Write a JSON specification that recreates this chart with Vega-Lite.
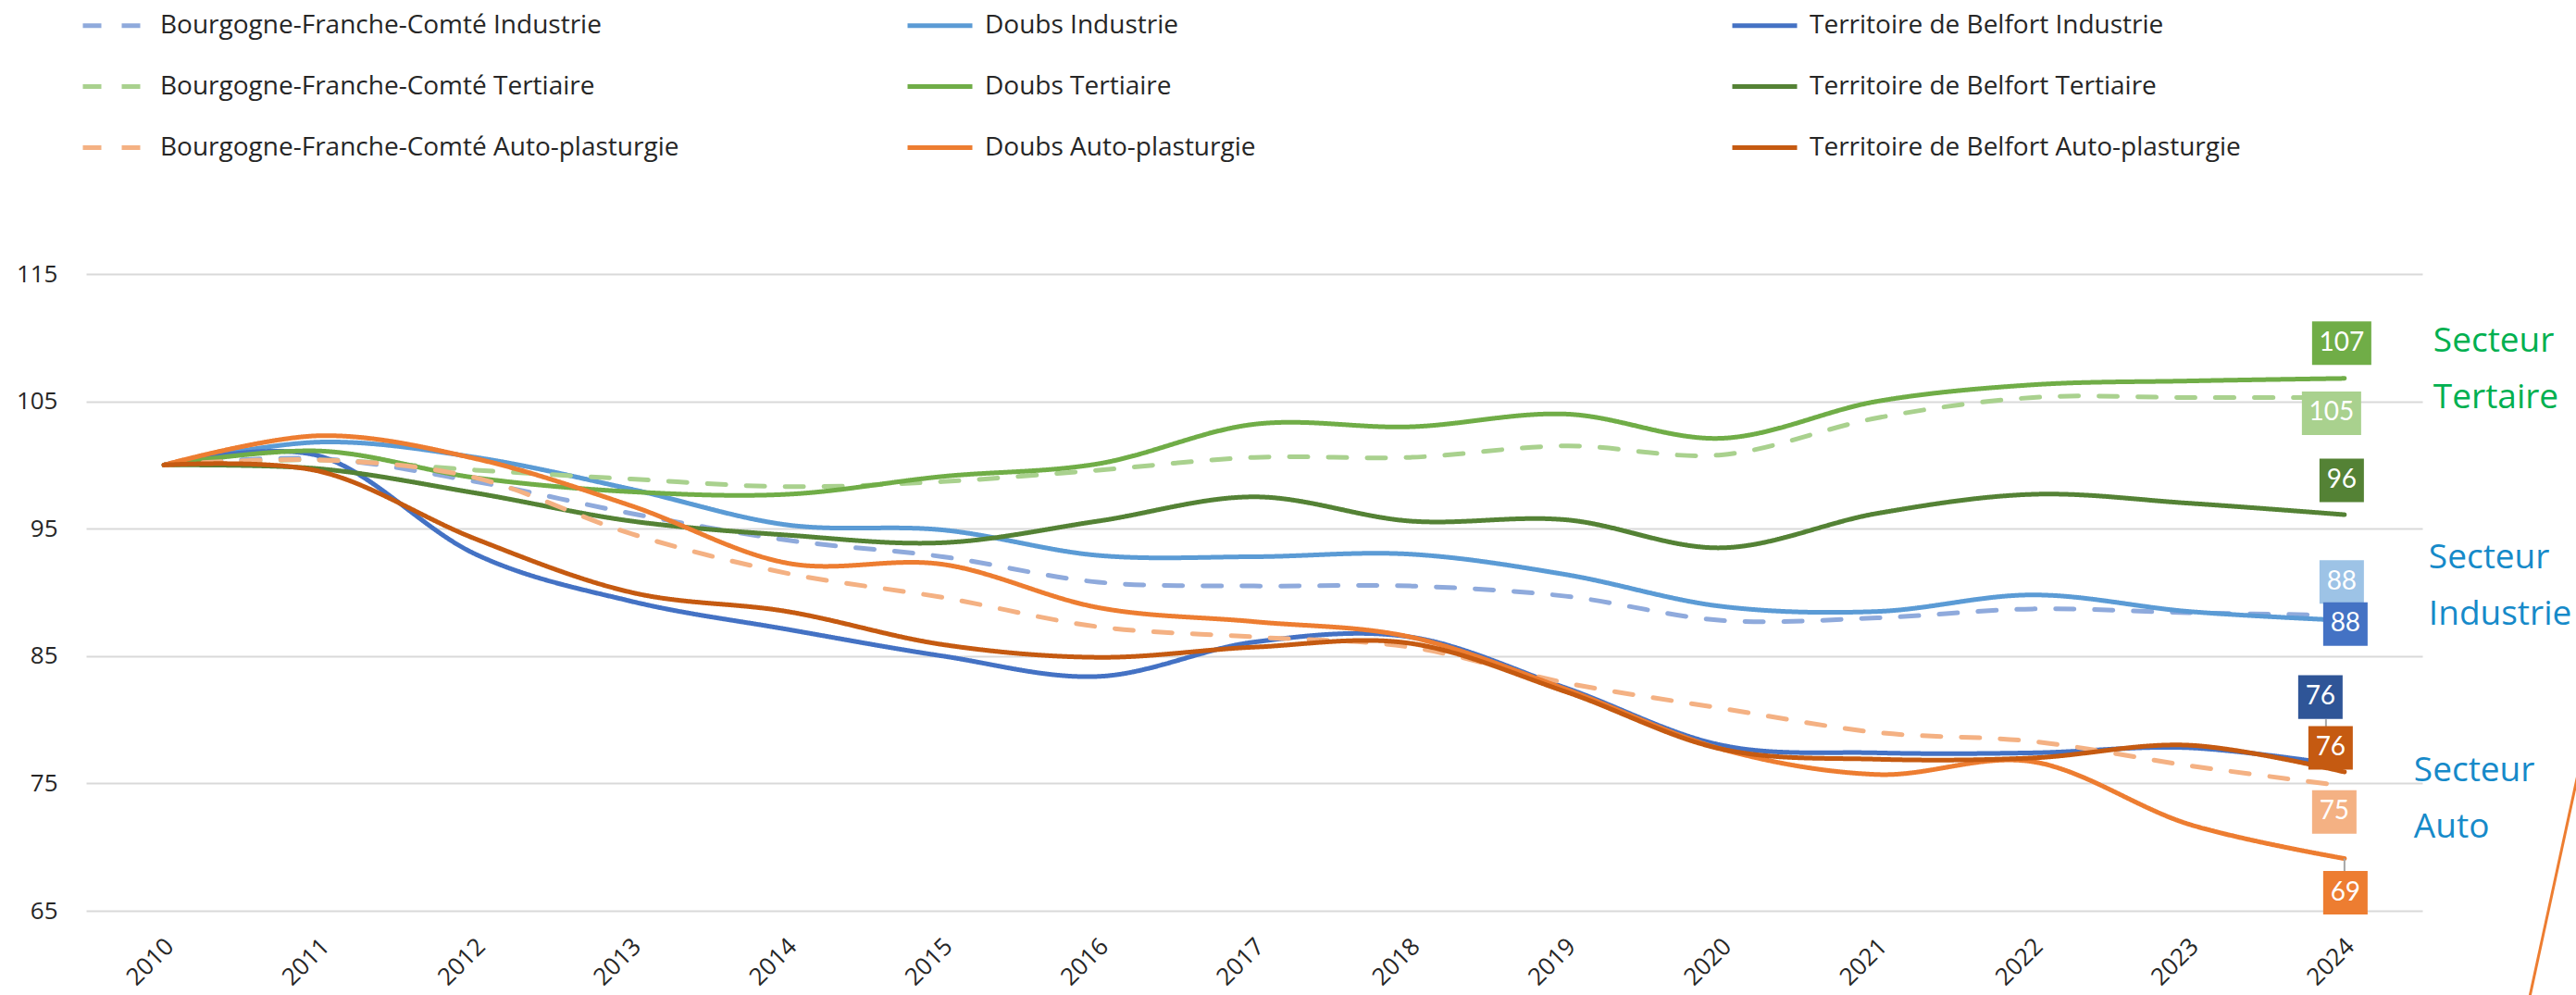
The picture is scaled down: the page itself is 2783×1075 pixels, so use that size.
{
  "$schema": "https://vega.github.io/schema/vega-lite/v6.json",
  "width": 2524,
  "height": 688,
  "autosize": {"type": "none"},
  "padding": {"left": 93, "top": 296, "right": 166, "bottom": 91},
  "background": "white",
  "config": {"view": {"stroke": null}, "font": "Open Sans"},
  "datasets": {
    "idx": [
      {"year": 2010, "Bourgogne-Franche-Comté Industrie": 100, "Doubs Industrie": 100, "Territoire de Belfort Industrie": 100, "Bourgogne-Franche-Comté Tertiaire": 100, "Doubs Tertiaire": 100, "Territoire de Belfort Tertiaire": 100, "Bourgogne-Franche-Comté Auto-plasturgie": 100, "Doubs Auto-plasturgie": 100, "Territoire de Belfort Auto-plasturgie": 100},
      {"year": 2011, "Bourgogne-Franche-Comté Industrie": 100.5, "Doubs Industrie": 101.8, "Territoire de Belfort Industrie": 100.7, "Bourgogne-Franche-Comté Tertiaire": 100.4, "Doubs Tertiaire": 101.1, "Territoire de Belfort Tertiaire": 99.7, "Bourgogne-Franche-Comté Auto-plasturgie": 100.4, "Doubs Auto-plasturgie": 102.3, "Territoire de Belfort Auto-plasturgie": 99.5},
      {"year": 2012, "Bourgogne-Franche-Comté Industrie": 98.7, "Doubs Industrie": 100.6, "Territoire de Belfort Industrie": 93.0, "Bourgogne-Franche-Comté Tertiaire": 99.6, "Doubs Tertiaire": 99.0, "Territoire de Belfort Tertiaire": 97.8, "Bourgogne-Franche-Comté Auto-plasturgie": 99.0, "Doubs Auto-plasturgie": 100.5, "Territoire de Belfort Auto-plasturgie": 94.2},
      {"year": 2013, "Bourgogne-Franche-Comté Industrie": 96.2, "Doubs Industrie": 98.1, "Territoire de Belfort Industrie": 89.3, "Bourgogne-Franche-Comté Tertiaire": 98.9, "Doubs Tertiaire": 97.9, "Territoire de Belfort Tertiaire": 95.6, "Bourgogne-Franche-Comté Auto-plasturgie": 94.6, "Doubs Auto-plasturgie": 96.8, "Territoire de Belfort Auto-plasturgie": 90.0},
      {"year": 2014, "Bourgogne-Franche-Comté Industrie": 94.1, "Doubs Industrie": 95.3, "Territoire de Belfort Industrie": 87.1, "Bourgogne-Franche-Comté Tertiaire": 98.3, "Doubs Tertiaire": 97.7, "Territoire de Belfort Tertiaire": 94.5, "Bourgogne-Franche-Comté Auto-plasturgie": 91.5, "Doubs Auto-plasturgie": 92.3, "Territoire de Belfort Auto-plasturgie": 88.5},
      {"year": 2015, "Bourgogne-Franche-Comté Industrie": 92.8, "Doubs Industrie": 94.9, "Territoire de Belfort Industrie": 85.0, "Bourgogne-Franche-Comté Tertiaire": 98.7, "Doubs Tertiaire": 99.1, "Territoire de Belfort Tertiaire": 93.9, "Bourgogne-Franche-Comté Auto-plasturgie": 89.6, "Doubs Auto-plasturgie": 92.2, "Territoire de Belfort Auto-plasturgie": 85.9},
      {"year": 2016, "Bourgogne-Franche-Comté Industrie": 90.8, "Doubs Industrie": 92.9, "Territoire de Belfort Industrie": 83.4, "Bourgogne-Franche-Comté Tertiaire": 99.6, "Doubs Tertiaire": 100.1, "Territoire de Belfort Tertiaire": 95.6, "Bourgogne-Franche-Comté Auto-plasturgie": 87.3, "Doubs Auto-plasturgie": 88.8, "Territoire de Belfort Auto-plasturgie": 84.9},
      {"year": 2017, "Bourgogne-Franche-Comté Industrie": 90.5, "Doubs Industrie": 92.8, "Territoire de Belfort Industrie": 86.1, "Bourgogne-Franche-Comté Tertiaire": 100.6, "Doubs Tertiaire": 103.2, "Territoire de Belfort Tertiaire": 97.5, "Bourgogne-Franche-Comté Auto-plasturgie": 86.5, "Doubs Auto-plasturgie": 87.7, "Territoire de Belfort Auto-plasturgie": 85.7},
      {"year": 2018, "Bourgogne-Franche-Comté Industrie": 90.5, "Doubs Industrie": 93.0, "Territoire de Belfort Industrie": 86.5, "Bourgogne-Franche-Comté Tertiaire": 100.6, "Doubs Tertiaire": 103.0, "Territoire de Belfort Tertiaire": 95.6, "Bourgogne-Franche-Comté Auto-plasturgie": 85.7, "Doubs Auto-plasturgie": 86.5, "Territoire de Belfort Auto-plasturgie": 86.0},
      {"year": 2019, "Bourgogne-Franche-Comté Industrie": 89.7, "Doubs Industrie": 91.4, "Territoire de Belfort Industrie": 82.5, "Bourgogne-Franche-Comté Tertiaire": 101.5, "Doubs Tertiaire": 104.0, "Territoire de Belfort Tertiaire": 95.7, "Bourgogne-Franche-Comté Auto-plasturgie": 82.9, "Doubs Auto-plasturgie": 82.4, "Territoire de Belfort Auto-plasturgie": 82.2},
      {"year": 2020, "Bourgogne-Franche-Comté Industrie": 87.8, "Doubs Industrie": 88.9, "Territoire de Belfort Industrie": 78.0, "Bourgogne-Franche-Comté Tertiaire": 100.8, "Doubs Tertiaire": 102.1, "Territoire de Belfort Tertiaire": 93.5, "Bourgogne-Franche-Comté Auto-plasturgie": 80.9, "Doubs Auto-plasturgie": 77.7, "Territoire de Belfort Auto-plasturgie": 77.7},
      {"year": 2021, "Bourgogne-Franche-Comté Industrie": 88.0, "Doubs Industrie": 88.5, "Territoire de Belfort Industrie": 77.4, "Bourgogne-Franche-Comté Tertiaire": 103.7, "Doubs Tertiaire": 105.0, "Territoire de Belfort Tertiaire": 96.2, "Bourgogne-Franche-Comté Auto-plasturgie": 79.0, "Doubs Auto-plasturgie": 75.7, "Territoire de Belfort Auto-plasturgie": 76.9},
      {"year": 2022, "Bourgogne-Franche-Comté Industrie": 88.7, "Doubs Industrie": 89.8, "Territoire de Belfort Industrie": 77.4, "Bourgogne-Franche-Comté Tertiaire": 105.3, "Doubs Tertiaire": 106.3, "Territoire de Belfort Tertiaire": 97.7, "Bourgogne-Franche-Comté Auto-plasturgie": 78.3, "Doubs Auto-plasturgie": 76.7, "Territoire de Belfort Auto-plasturgie": 77.0},
      {"year": 2023, "Bourgogne-Franche-Comté Industrie": 88.4, "Doubs Industrie": 88.5, "Territoire de Belfort Industrie": 77.8, "Bourgogne-Franche-Comté Tertiaire": 105.3, "Doubs Tertiaire": 106.6, "Territoire de Belfort Tertiaire": 97.0, "Bourgogne-Franche-Comté Auto-plasturgie": 76.4, "Doubs Auto-plasturgie": 71.8, "Territoire de Belfort Auto-plasturgie": 78.0},
      {"year": 2024, "Bourgogne-Franche-Comté Industrie": 88.2, "Doubs Industrie": 87.8, "Territoire de Belfort Industrie": 76.4, "Bourgogne-Franche-Comté Tertiaire": 105.3, "Doubs Tertiaire": 106.8, "Territoire de Belfort Tertiaire": 96.1, "Bourgogne-Franche-Comté Auto-plasturgie": 74.8, "Doubs Auto-plasturgie": 69.1, "Territoire de Belfort Auto-plasturgie": 75.9}
    ]
  },
  "data": {"name": "idx"},
  "transform": [
    {"fold": ["Bourgogne-Franche-Comté Industrie", "Doubs Industrie", "Territoire de Belfort Industrie", "Bourgogne-Franche-Comté Tertiaire", "Doubs Tertiaire", "Territoire de Belfort Tertiaire", "Bourgogne-Franche-Comté Auto-plasturgie", "Doubs Auto-plasturgie", "Territoire de Belfort Auto-plasturgie"], "as": ["series", "value"]}
  ],
  "layer": [
    {
      "mark": {"type": "line", "interpolate": "cardinal", "strokeWidth": 5, "strokeCap": "round"},
      "encoding": {
        "x": {"field": "year", "type": "ordinal", "scale": {"type": "point", "padding": 0.5},
          "axis": {"title": null, "domain": false, "ticks": false, "grid": false, "labelAngle": -45, "labelAlign": "right", "labelBaseline": "middle", "labelFontSize": 26, "labelFont": "Open Sans", "labelColor": "#262626", "labelPadding": 34, "labelOffset": 6}},
        "y": {"field": "value", "type": "quantitative", "scale": {"domain": [65, 115], "zero": false, "nice": false},
          "axis": {"title": null, "values": [65, 75, 85, 95, 105, 115], "domain": false, "ticks": false, "labelFontSize": 26, "labelFont": "Open Sans", "labelColor": "#262626", "labelPadding": 31, "gridColor": "#D9D9D9", "gridWidth": 2}},
        "color": {"field": "series", "type": "nominal",
          "scale": {"domain": ["Bourgogne-Franche-Comté Industrie", "Bourgogne-Franche-Comté Tertiaire", "Bourgogne-Franche-Comté Auto-plasturgie", "Doubs Industrie", "Doubs Tertiaire", "Doubs Auto-plasturgie", "Territoire de Belfort Industrie", "Territoire de Belfort Tertiaire", "Territoire de Belfort Auto-plasturgie"],
            "range": ["#8FAADC", "#A9D18E", "#F4B183", "#5B9BD5", "#70AD47", "#ED7D31", "#4472C4", "#548235", "#C55A11"]},
          "legend": {"title": null, "orient": "none", "legendX": -6, "legendY": -306, "columns": 3, "columnPadding": 236, "rowPadding": 14, "gridAlign": "all", "symbolType": "stroke", "symbolSize": 4900, "symbolStrokeWidth": 5, "labelFont": "Open Sans", "labelFontSize": 28, "labelColor": "#262626", "labelLimit": 1000, "labelOffset": 11}},
        "strokeDash": {"field": "series", "type": "nominal",
          "scale": {"domain": ["Bourgogne-Franche-Comté Industrie", "Bourgogne-Franche-Comté Tertiaire", "Bourgogne-Franche-Comté Auto-plasturgie", "Doubs Industrie", "Doubs Tertiaire", "Doubs Auto-plasturgie", "Territoire de Belfort Industrie", "Territoire de Belfort Tertiaire", "Territoire de Belfort Auto-plasturgie"],
            "range": [[20, 22], [20, 22], [20, 22], [1, 0], [1, 0], [1, 0], [1, 0], [1, 0], [1, 0]]},
          "legend": {"title": null, "orient": "none", "legendX": -6, "legendY": -306, "columns": 3, "columnPadding": 236, "rowPadding": 14, "gridAlign": "all", "symbolType": "stroke", "symbolSize": 4900, "symbolStrokeWidth": 5, "labelFont": "Open Sans", "labelFontSize": 28, "labelColor": "#262626", "labelLimit": 1000, "labelOffset": 11}}
      }
    },
    {
      "transform": [{"filter": "datum.year === 2024 && datum.series === 'Territoire de Belfort Industrie'"}],
      "mark": {"type": "rule", "color": "#A6A6A6", "strokeWidth": 2, "xOffset": -20, "yOffset": -50, "y2Offset": -25},
      "encoding": {"x": {"field": "year", "type": "ordinal"}, "y": {"field": "value", "type": "quantitative"}, "y2": {"field": "value"}}
    },
    {
      "transform": [{"filter": "datum.year === 2024 && datum.series === 'Doubs Auto-plasturgie'"}],
      "mark": {"type": "rule", "color": "#A6A6A6", "strokeWidth": 2, "y2Offset": 16},
      "encoding": {"x": {"field": "year", "type": "ordinal"}, "y": {"field": "value", "type": "quantitative"}, "y2": {"field": "value"}}
    },
    {
      "transform": [{"filter": "datum.year === 2024 && datum.series === 'Doubs Auto-plasturgie'"}],
      "mark": {"type": "rule", "color": "#ED7D31", "strokeWidth": 3, "xOffset": 252, "yOffset": -90, "x2Offset": 200, "y2Offset": 150},
      "encoding": {"x": {"field": "year", "type": "ordinal"}, "y": {"field": "value", "type": "quantitative"}, "x2": {"field": "year"}, "y2": {"field": "value"}}
    },
    {
      "transform": [{"filter": "datum.year === 2024 && datum.series === 'Doubs Tertiaire'"}],
      "encoding": {"x": {"field": "year", "type": "ordinal"}, "y": {"field": "value", "type": "quantitative"}},
      "layer": [
        {"mark": {"type": "point", "shape": "M-1,-0.734H1V0.734H-1Z", "size": 4096, "filled": true, "opacity": 1, "color": "#70AD47", "xOffset": -3, "yOffset": -38}},
        {"mark": {"type": "text", "color": "white", "font": "Lato", "fontSize": 28, "align": "center", "baseline": "middle", "xOffset": -3, "yOffset": -38}, "encoding": {"text": {"field": "value", "format": ".0f"}}},
        {"mark": {"type": "text", "text": ["Secteur", "Tertaire"], "color": "#00B050", "font": "Open Sans", "fontSize": 37, "lineHeight": 61, "align": "left", "baseline": "middle", "xOffset": 96, "yOffset": -40}}
      ]
    },
    {
      "transform": [{"filter": "datum.year === 2024 && datum.series === 'Bourgogne-Franche-Comté Tertiaire'"}],
      "encoding": {"x": {"field": "year", "type": "ordinal"}, "y": {"field": "value", "type": "quantitative"}},
      "layer": [
        {"mark": {"type": "point", "shape": "M-1,-0.734H1V0.734H-1Z", "size": 4096, "filled": true, "opacity": 1, "color": "#A9D18E", "xOffset": -14, "yOffset": 17}},
        {"mark": {"type": "text", "color": "white", "font": "Lato", "fontSize": 28, "align": "center", "baseline": "middle", "xOffset": -14, "yOffset": 17}, "encoding": {"text": {"field": "value", "format": ".0f"}}}
      ]
    },
    {
      "transform": [{"filter": "datum.year === 2024 && datum.series === 'Territoire de Belfort Tertiaire'"}],
      "encoding": {"x": {"field": "year", "type": "ordinal"}, "y": {"field": "value", "type": "quantitative"}},
      "layer": [
        {"mark": {"type": "point", "shape": "M-1,-0.98H1V0.98H-1Z", "size": 2304, "filled": true, "opacity": 1, "color": "#548235", "xOffset": -3, "yOffset": -37}},
        {"mark": {"type": "text", "color": "white", "font": "Lato", "fontSize": 28, "align": "center", "baseline": "middle", "xOffset": -3, "yOffset": -37}, "encoding": {"text": {"field": "value", "format": ".0f"}}}
      ]
    },
    {
      "transform": [{"filter": "datum.year === 2024 && datum.series === 'Bourgogne-Franche-Comté Industrie'"}],
      "encoding": {"x": {"field": "year", "type": "ordinal"}, "y": {"field": "value", "type": "quantitative"}},
      "layer": [
        {"mark": {"type": "point", "shape": "M-1,-0.98H1V0.98H-1Z", "size": 2304, "filled": true, "opacity": 1, "color": "#9DC3E6", "xOffset": -3, "yOffset": -36}},
        {"mark": {"type": "text", "color": "white", "font": "Lato", "fontSize": 28, "align": "center", "baseline": "middle", "xOffset": -3, "yOffset": -36}, "encoding": {"text": {"field": "value", "format": ".0f"}}}
      ]
    },
    {
      "transform": [{"filter": "datum.year === 2024 && datum.series === 'Doubs Industrie'"}],
      "encoding": {"x": {"field": "year", "type": "ordinal"}, "y": {"field": "value", "type": "quantitative"}},
      "layer": [
        {"mark": {"type": "point", "shape": "M-1,-0.98H1V0.98H-1Z", "size": 2304, "filled": true, "opacity": 1, "color": "#4472C4", "xOffset": 1, "yOffset": 4}},
        {"mark": {"type": "text", "color": "white", "font": "Lato", "fontSize": 28, "align": "center", "baseline": "middle", "xOffset": 1, "yOffset": 4}, "encoding": {"text": {"field": "value", "format": ".0f"}}},
        {"mark": {"type": "text", "text": ["Secteur", "Industrie"], "color": "#168AC9", "font": "Open Sans", "fontSize": 37, "lineHeight": 61, "align": "left", "baseline": "middle", "xOffset": 91, "yOffset": -67}}
      ]
    },
    {
      "transform": [{"filter": "datum.year === 2024 && datum.series === 'Territoire de Belfort Industrie'"}],
      "encoding": {"x": {"field": "year", "type": "ordinal"}, "y": {"field": "value", "type": "quantitative"}},
      "layer": [
        {"mark": {"type": "point", "shape": "M-1,-0.98H1V0.98H-1Z", "size": 2304, "filled": true, "opacity": 1, "color": "#2F5597", "xOffset": -26, "yOffset": -74}},
        {"mark": {"type": "text", "color": "white", "font": "Lato", "fontSize": 28, "align": "center", "baseline": "middle", "xOffset": -26, "yOffset": -74}, "encoding": {"text": {"field": "value", "format": ".0f"}}}
      ]
    },
    {
      "transform": [{"filter": "datum.year === 2024 && datum.series === 'Territoire de Belfort Auto-plasturgie'"}],
      "encoding": {"x": {"field": "year", "type": "ordinal"}, "y": {"field": "value", "type": "quantitative"}},
      "layer": [
        {"mark": {"type": "point", "shape": "M-1,-0.98H1V0.98H-1Z", "size": 2304, "filled": true, "opacity": 1, "color": "#C55A11", "xOffset": -15, "yOffset": -26}},
        {"mark": {"type": "text", "color": "white", "font": "Lato", "fontSize": 28, "align": "center", "baseline": "middle", "xOffset": -15, "yOffset": -26}, "encoding": {"text": {"field": "value", "format": ".0f"}}}
      ]
    },
    {
      "transform": [{"filter": "datum.year === 2024 && datum.series === 'Bourgogne-Franche-Comté Auto-plasturgie'"}],
      "encoding": {"x": {"field": "year", "type": "ordinal"}, "y": {"field": "value", "type": "quantitative"}},
      "layer": [
        {"mark": {"type": "point", "shape": "M-1,-0.98H1V0.98H-1Z", "size": 2304, "filled": true, "opacity": 1, "color": "#F4B183", "xOffset": -11, "yOffset": 28}},
        {"mark": {"type": "text", "color": "white", "font": "Lato", "fontSize": 28, "align": "center", "baseline": "middle", "xOffset": -11, "yOffset": 28}, "encoding": {"text": {"field": "value", "format": ".0f"}}},
        {"mark": {"type": "text", "text": ["Secteur", "Auto"], "color": "#168AC9", "font": "Open Sans", "fontSize": 37, "lineHeight": 61, "align": "left", "baseline": "middle", "xOffset": 75, "yOffset": -16}}
      ]
    },
    {
      "transform": [{"filter": "datum.year === 2024 && datum.series === 'Doubs Auto-plasturgie'"}],
      "encoding": {"x": {"field": "year", "type": "ordinal"}, "y": {"field": "value", "type": "quantitative"}},
      "layer": [
        {"mark": {"type": "point", "shape": "M-1,-0.98H1V0.98H-1Z", "size": 2304, "filled": true, "opacity": 1, "color": "#ED7D31", "xOffset": 1, "yOffset": 37}},
        {"mark": {"type": "text", "color": "white", "font": "Lato", "fontSize": 28, "align": "center", "baseline": "middle", "xOffset": 1, "yOffset": 37}, "encoding": {"text": {"field": "value", "format": ".0f"}}}
      ]
    }
  ]
}
